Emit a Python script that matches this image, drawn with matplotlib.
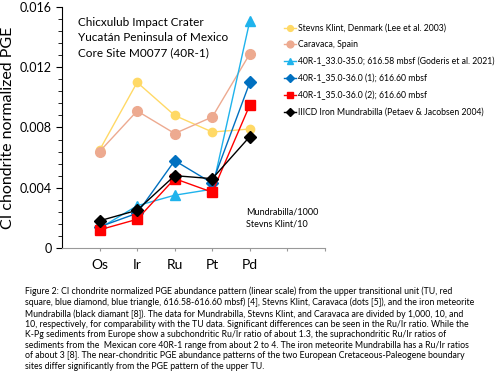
import matplotlib
matplotlib.use('Agg')
import matplotlib.pyplot as plt

plt.rcParams['font.family'] = ['Lato', 'DejaVu Sans']

# PGE categories and CI-normalized values
elements = ['Os', 'Ir', 'Ru', 'Pt', 'Pd']
stevns = [0.0065, 0.0110, 0.0088, 0.0077, 0.0079]
caravaca = [0.0064, 0.0091, 0.0076, 0.0087, 0.0129]
tri_3335 = [0.0013, 0.0028, 0.0035, 0.0039, 0.0151]
dia_3536 = [0.0014, 0.0023, 0.0058, 0.0043, 0.0110]
sq_3536 = [0.0012, 0.0019, 0.0046, 0.0037, 0.0095]
mundrabilla = [0.0018, 0.0025, 0.0048, 0.0046, 0.0074]

labels = ['Stevns Klint, Denmark (Lee et al. 2003)',
          'Caravaca, Spain',
          '40R-1_33.0-35.0; 616.58 mbsf (Goderis et al. 2021)',
          '40R-1_35.0-36.0 (1); 616.60 mbsf',
          '40R-1_35.0-36.0 (2); 616.60 mbsf',
          'IIICD Iron Mundrabilla (Petaev & Jacobsen 2004)']

caption = ("Figure 2: CI chondrite normalized PGE abundance pattern (linear scale) from the upper transitional unit (TU, red\n"
           "square, blue diamond, blue triangle, 616.58-616.60 mbsf) [4], Stevns Klint, Caravaca (dots [5]), and the iron meteorite\n"
           "Mundrabilla (black diamant [8]). The data for Mundrabilla, Stevns Klint, and Caravaca are divided by 1,000, 10, and\n"
           "10, respectively, for comparability with the TU data. Significant differences can be seen in the Ru/Ir ratio. While the\n"
           "K-Pg sediments from Europe show a subchondritic Ru/Ir ratio of about 1.3, the suprachondritic Ru/Ir ratios of\n"
           "sediments from the  Mexican core 40R-1 range from about 2 to 4. The iron meteorite Mundrabilla has a Ru/Ir ratios\n"
           "of about 3 [8]. The near-chondritic PGE abundance patterns of the two European Cretaceous-Paleogene boundary\n"
           "sites differ significantly from the PGE pattern of the upper TU.")

fig = plt.figure(figsize=(5, 3.75), dpi=100)
ax = fig.add_axes([0.124, 0.339, 0.526, 0.642])

x = list(range(1, len(elements) + 1))
series = [
    (stevns, '#FFD966', 'o', 6),
    (caravaca, '#EDAA90', 'o', 7),
    (tri_3335, '#1FB3EC', '^', 7),
    (dia_3536, '#0070C0', 'D', 6),
    (sq_3536, '#FF0000', 's', 6.5),
    (mundrabilla, '#000000', 'D', 6),
]
for (vals, col, mk, ms), lab in zip(series, labels):
    ax.plot(x, vals, color=col, marker=mk, markersize=ms, linewidth=1, label=lab)

ax.set_xlim(0, 7)
ax.set_ylim(0, 0.016)
ax.set_xticks(range(1, 8))
ax.set_xticklabels(elements + ['', ''], fontsize=10)
ax.set_yticks([0, 0.004, 0.008, 0.012, 0.016])
ax.set_yticklabels(['0', '0.004', '0.008', '0.012', '0.016'], fontsize=9)
ax.set_yticks([i * 0.0008 for i in range(21)], minor=True)
ax.tick_params(axis='y', which='major', length=4, direction='out')
ax.tick_params(axis='y', which='minor', length=3, direction='out')
ax.tick_params(axis='x', length=2, color='#999999', pad=6)
for s in ['top', 'right']:
    ax.spines[s].set_visible(False)
ax.spines['bottom'].set_color('#999999')
ax.set_ylabel('CI chondrite normalized PGE', fontsize=11.5, labelpad=3)

ax.text(0.062, 0.96, 'Chicxulub Impact Crater\nYucatán Peninsula of Mexico\nCore Site M0077 (40R-1)',
        transform=ax.transAxes, fontsize=8.5, va='top', ha='left', linespacing=1.45)
ax.text(4.9, 0.0013, 'Mundrabilla/1000\nStevns Klint/10', fontsize=6.5, va='bottom', ha='left',
        linespacing=1.4)

leg = fig.legend(loc='upper left', bbox_to_anchor=(0.553, 0.958), fontsize=6.25, frameon=False,
                 handlelength=1.4, handletextpad=0.2, labelspacing=0.88, markerscale=0.7)

fig.text(0.05, 0.235, caption, fontsize=6.3, va='top', ha='left', linespacing=1.2)

fig.savefig('out.png', dpi=100, facecolor='white')
